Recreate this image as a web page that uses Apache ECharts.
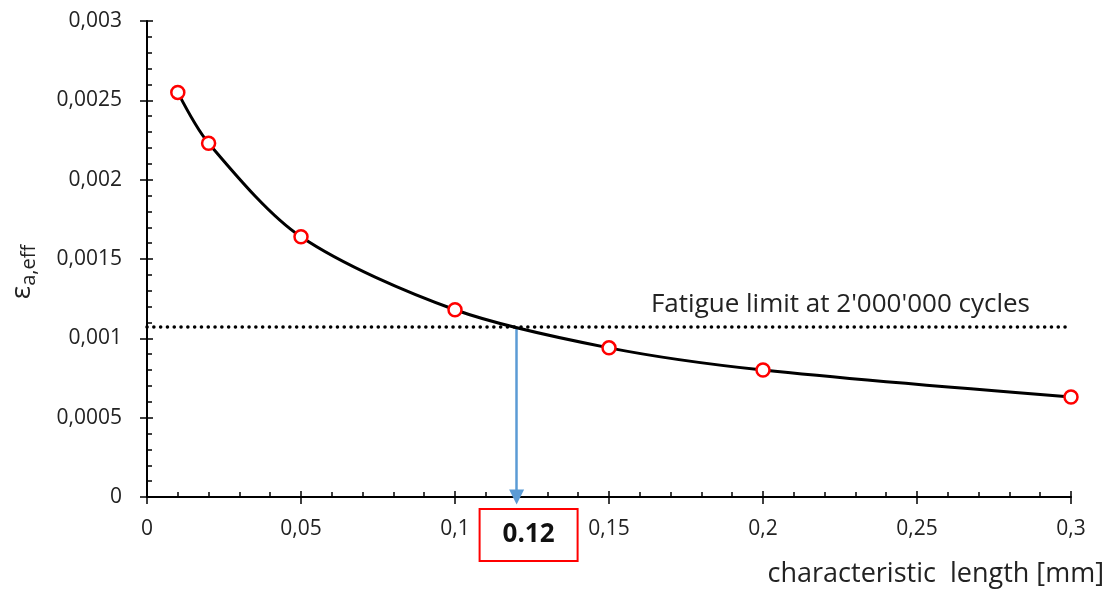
<!DOCTYPE html>
<html>
<head>
<meta charset="utf-8">
<script src="https://cdn.jsdelivr.net/npm/echarts@6/dist/echarts.min.js"></script>
<style>
  html, body { margin: 0; padding: 0; background: #fff; }
  #chart { width: 1117px; height: 596px; }
</style>
</head>
<body>
<div id="chart"></div>
<script>
// 数据
var lengths = [0.01, 0.02, 0.05, 0.1, 0.15, 0.2, 0.3];
var strains = [0.00255, 0.00223, 0.00164, 0.00118, 0.00094, 0.0008, 0.00063];
var fatigueLimit = 0.00107;
var criticalLength = 0.12;
var fatigueLabel = "Fatigue limit at 2'000'000 cycles";

var fontFamily = '"Open Sans", sans-serif';
var myChart = echarts.init(document.getElementById('chart'));

function comma(v) {
    return String(v).replace('.', ',');
}

var points = lengths.map(function (x, i) { return [x, strains[i]]; });

option = {
    animation: false,
    grid: { left: 145, right: 46, top: 21, bottom: 99 },
    xAxis: [{
        type: 'value',
        min: 0, max: 0.3, interval: 0.05,
        name: 'characteristic  length [mm]',
        nameLocation: 'end',
        nameGap: 0,
        nameTextStyle: {
            fontFamily: fontFamily, fontSize: 27, color: '#222',
            align: 'right', verticalAlign: 'top', padding: [64, -33, 0, 0]
        },
        axisLine: { lineStyle: { color: '#000', width: 2 } },
        axisTick: { inside: true, length: 6, lineStyle: { color: '#000', width: 1.5 } },
        minorTick: { show: true, splitNumber: 5, length: 5, lineStyle: { color: '#000', width: 1.5 } },
        splitLine: { show: false },
        axisLabel: {
            margin: 22, fontFamily: fontFamily, fontSize: 21, color: '#222',
            formatter: comma
        }
    }, {
        // 外侧主刻度
        type: 'value', position: 'bottom',
        min: 0, max: 0.3, interval: 0.05,
        axisLine: { show: false },
        axisTick: { length: 7, lineStyle: { color: '#000', width: 1.5 } },
        axisLabel: { show: false },
        splitLine: { show: false }
    }],
    yAxis: [{
        type: 'value',
        min: 0, max: 0.003, interval: 0.0005,
        name: '{e|ε}{s|a,eff}',
        nameLocation: 'middle',
        nameRotate: 90,
        nameGap: 108,
        nameTextStyle: {
            padding: [0, 0, 0, -26],
            rich: {
                e: { fontFamily: fontFamily, fontSize: 28, color: '#222' },
                s: { fontFamily: fontFamily, fontSize: 20, color: '#222', padding: [14, 0, 0, 0] }
            }
        },
        axisLine: { show: true, lineStyle: { color: '#000', width: 2 } },
        axisTick: { show: true, inside: true, length: 6, lineStyle: { color: '#000', width: 1.5 } },
        minorTick: { show: true, splitNumber: 5, length: 5, lineStyle: { color: '#000', width: 1.5 } },
        splitLine: { show: false },
        axisLabel: {
            margin: 25, fontFamily: fontFamily, fontSize: 21, color: '#222',
            formatter: comma
        }
    }, {
        type: 'value', position: 'left',
        min: 0, max: 0.003, interval: 0.0005,
        axisLine: { show: false },
        axisTick: { show: true, length: 7, lineStyle: { color: '#000', width: 1.5 } },
        axisLabel: { show: false },
        splitLine: { show: false }
    }],
    series: [{
        type: 'line',
        data: points,
        smooth: 0.3,
        z: 3,
        lineStyle: { color: '#000', width: 3 },
        symbol: 'circle',
        symbolSize: 13,
        itemStyle: { color: '#fff', borderColor: '#ff0000', borderWidth: 2.5 },
        markLine: {
            silent: true,
            animation: false,
            z: 2,
            data: [
                [
                    {
                        coord: [0, fatigueLimit], symbol: 'none',
                        lineStyle: { color: '#000', width: 3.5, type: [0.1, 6.7], cap: 'round' },
                        label: {
                            show: true,
                            position: 'insideEndTop',
                            formatter: fatigueLabel,
                            fontFamily: fontFamily, fontSize: 26, color: '#222',
                            distance: [41, 10]
                        }
                    },
                    { coord: [0.3, fatigueLimit], symbol: 'none' }
                ],
                [
                    {
                        coord: [criticalLength, fatigueLimit], symbol: 'none',
                        lineStyle: { color: '#5b9bd5', width: 2.5, type: 'solid' },
                        label: { show: false }
                    },
                    { coord: [criticalLength, 0], symbol: 'triangle', symbolSize: [15, 15] }
                ]
            ]
        },
        markPoint: {
            silent: true,
            symbol: 'rect',
            symbolSize: 0,
            data: [{
                coord: [criticalLength, 0],
                label: {
                    show: true,
                    formatter: String(criticalLength),
                    offset: [12, 38],
                    width: 96, height: 50, lineHeight: 50,
                    align: 'center',
                    borderColor: '#ff0000', borderWidth: 2,
                    backgroundColor: '#fff',
                    fontFamily: fontFamily, fontSize: 26, fontWeight: 'bold', color: '#111'
                }
            }]
        }
    }]
};
myChart.setOption(option);
</script>
</body>
</html>
